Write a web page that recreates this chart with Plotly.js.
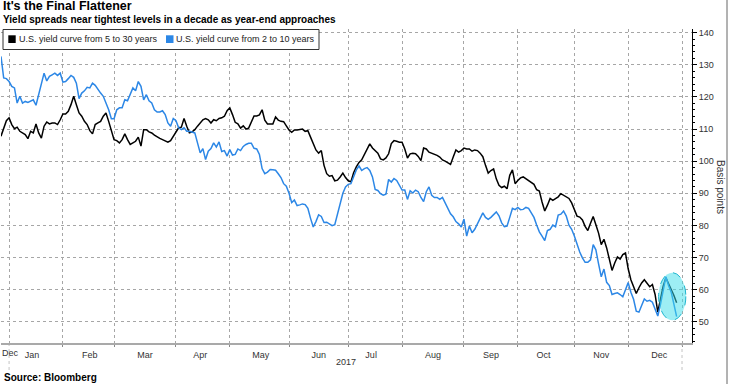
<!DOCTYPE html>
<html>
<head>
<meta charset="utf-8">
<script src="https://cdn.plot.ly/plotly-3.0.1.min.js"></script>
<style>
html, body { margin: 0; padding: 0; background: #ffffff; }
#chart { width: 729px; height: 384px; }
</style>
</head>
<body>
<div id="chart"></div>
<script>
// ---------------- DATA ----------------
const dates = [
  '2016-12-28','2016-12-29','2016-12-30',
  '2017-01-03','2017-01-04','2017-01-05','2017-01-06','2017-01-09','2017-01-10','2017-01-11','2017-01-12','2017-01-13','2017-01-17','2017-01-18','2017-01-19','2017-01-20','2017-01-23','2017-01-24','2017-01-25','2017-01-26','2017-01-27','2017-01-30','2017-01-31',
  '2017-02-01','2017-02-02','2017-02-03','2017-02-06','2017-02-07','2017-02-08','2017-02-09','2017-02-10','2017-02-13','2017-02-14','2017-02-15','2017-02-16','2017-02-17','2017-02-21','2017-02-22','2017-02-23','2017-02-24','2017-02-27','2017-02-28',
  '2017-03-01','2017-03-02','2017-03-03','2017-03-06','2017-03-07','2017-03-08','2017-03-09','2017-03-10','2017-03-13','2017-03-14','2017-03-15','2017-03-16','2017-03-17','2017-03-20','2017-03-21','2017-03-22','2017-03-23','2017-03-24','2017-03-27','2017-03-28','2017-03-29','2017-03-30','2017-03-31',
  '2017-04-03','2017-04-04','2017-04-05','2017-04-06','2017-04-07','2017-04-10','2017-04-11','2017-04-12','2017-04-13','2017-04-14','2017-04-17','2017-04-18','2017-04-19','2017-04-20','2017-04-21','2017-04-24','2017-04-25','2017-04-26','2017-04-27','2017-04-28',
  '2017-05-01','2017-05-02','2017-05-03','2017-05-04','2017-05-05','2017-05-08','2017-05-09','2017-05-10','2017-05-11','2017-05-12','2017-05-15','2017-05-16','2017-05-17','2017-05-18','2017-05-19','2017-05-22','2017-05-23','2017-05-24','2017-05-25','2017-05-26','2017-05-30','2017-05-31',
  '2017-06-01','2017-06-02','2017-06-05','2017-06-06','2017-06-07','2017-06-08','2017-06-09','2017-06-12','2017-06-13','2017-06-14','2017-06-15','2017-06-16','2017-06-19','2017-06-20','2017-06-21','2017-06-22','2017-06-23','2017-06-26','2017-06-27','2017-06-28','2017-06-29','2017-06-30',
  '2017-07-03','2017-07-05','2017-07-06','2017-07-07','2017-07-10','2017-07-11','2017-07-12','2017-07-13','2017-07-14','2017-07-17','2017-07-18','2017-07-19','2017-07-20','2017-07-21','2017-07-24','2017-07-25','2017-07-26','2017-07-27','2017-07-28','2017-07-31',
  '2017-08-01','2017-08-02','2017-08-03','2017-08-04','2017-08-07','2017-08-08','2017-08-09','2017-08-10','2017-08-11','2017-08-14','2017-08-15','2017-08-16','2017-08-17','2017-08-18','2017-08-21','2017-08-22','2017-08-23','2017-08-24','2017-08-25','2017-08-28','2017-08-29','2017-08-30','2017-08-31',
  '2017-09-01','2017-09-05','2017-09-06','2017-09-07','2017-09-08','2017-09-11','2017-09-12','2017-09-13','2017-09-14','2017-09-15','2017-09-18','2017-09-19','2017-09-20','2017-09-21','2017-09-22','2017-09-25','2017-09-26','2017-09-27','2017-09-28','2017-09-29',
  '2017-10-02','2017-10-03','2017-10-04','2017-10-05','2017-10-06','2017-10-10','2017-10-11','2017-10-12','2017-10-13','2017-10-16','2017-10-17','2017-10-18','2017-10-19','2017-10-20','2017-10-23','2017-10-24','2017-10-25','2017-10-26','2017-10-27','2017-10-30','2017-10-31',
  '2017-11-01','2017-11-02','2017-11-03','2017-11-06','2017-11-07','2017-11-08','2017-11-09','2017-11-13','2017-11-14','2017-11-15','2017-11-16','2017-11-17','2017-11-20','2017-11-21','2017-11-22','2017-11-24','2017-11-27','2017-11-28','2017-11-29','2017-11-30',
  '2017-12-01','2017-12-04','2017-12-05','2017-12-06','2017-12-07','2017-12-08','2017-12-11','2017-12-12','2017-12-13','2017-12-14','2017-12-15','2017-12-18','2017-12-19','2017-12-20','2017-12-21','2017-12-22','2017-12-26','2017-12-27','2017-12-28'
];

// U.S. yield curve from 5 to 30 years (basis points)
const curve5to30 = [
  107.8, 110.4, 112.6,
  113.5, 111.4, 110.1, 110.6, 109.3, 108.8, 108.3, 107.0, 109.3, 108.8, 111.6, 108.8, 107.2, 110.9, 112.2, 111.6, 111.9, 111.9, 111.4, 112.9,
  114.7, 114.7, 115.5, 117.6, 120.2, 117.6, 115.0, 114.0, 112.4, 111.4, 109.5, 108.5, 111.4, 111.9, 112.4, 114.0, 115.0, 112.4, 109.3,
  106.7, 106.4, 105.7, 106.7, 108.5, 106.7, 105.2, 105.7, 106.2, 107.5, 104.7, 109.8, 109.8, 109.1, 108.8, 108.1, 107.5, 107.1, 106.7, 106.2, 105.9, 106.4, 107.8,
  109.1, 110.4, 110.6, 113.3, 110.9, 108.8, 109.1, 109.8, 110.9, 111.9, 112.9, 113.3, 112.9, 111.9, 112.9, 112.6, 113.3, 113.5, 114.0, 115.7,
  116.6, 114.5, 112.1, 111.6, 110.3, 111.0, 110.0, 110.3, 112.1, 114.1, 114.1, 114.4, 116.0, 112.8, 111.6, 111.6, 111.6, 113.8, 112.8, 112.4, 112.3, 111.0,
  109.7, 109.0, 109.7, 109.7, 109.8, 110.0, 109.3, 109.5, 107.5, 105.2, 103.5, 102.5, 103.3, 98.7, 96.1, 95.3, 95.5, 93.9, 94.1, 95.1, 96.3, 94.9,
  93.9, 93.6, 96.4, 98.2, 99.6, 100.4, 102.1, 103.5, 105.4, 104.1, 103.3, 102.5, 100.7, 100.4, 101.0, 102.3, 105.5, 106.4, 106.2, 105.9,
  105.9, 103.8, 101.0, 102.3, 102.5, 102.3, 101.5, 100.2, 104.1, 103.8, 102.8, 102.5, 102.3, 101.8, 101.3, 100.4, 100.0, 99.5, 99.0, 101.3, 103.5, 102.8, 103.3,
  104.1, 103.8, 103.8, 103.1, 103.5, 103.3, 102.5, 101.4, 98.7, 96.3, 97.1, 97.6, 94.5, 92.5, 91.8, 92.2, 91.4, 95.6, 97.3, 93.0,
  94.0, 94.8, 95.1, 94.5, 94.0, 93.5, 92.8, 91.1, 90.7, 87.3, 84.5, 86.3, 88.4, 87.8, 88.4, 88.9, 89.9, 89.4, 89.1, 88.4, 87.0,
  84.7, 82.9, 82.6, 81.7, 79.7, 78.4, 80.7, 82.8, 80.2, 77.6, 74.0, 75.7, 73.0, 69.9, 66.0, 68.3, 70.2, 69.5, 70.9, 71.4,
  66.5, 63.1, 61.1, 58.8, 60.6, 62.1, 63.1, 62.1, 60.9, 61.6, 58.5, 53.0, 56.9, 61.1, 63.7, 61.9, 60.2, 58.2, 55.9
];

// U.S. yield curve from 2 to 10 years (basis points)
const curve2to10 = [
  132.6, 125.9, 125.7,
  124.8, 123.3, 122.8, 118.1, 120.2, 118.1, 118.6, 118.3, 118.6, 119.1, 117.4, 120.7, 124.3, 127.4, 125.0, 126.4, 126.9, 127.4, 126.7, 127.4,
  124.6, 124.8, 125.7, 126.7, 126.1, 124.3, 119.5, 121.2, 121.9, 123.0, 122.8, 124.3, 123.6, 122.2, 121.2, 120.2, 118.1, 116.0, 113.2,
  113.2, 116.0, 116.6, 116.6, 119.1, 118.8, 120.7, 122.8, 121.9, 124.8, 123.3, 119.1, 120.7, 118.8, 118.1, 116.0, 115.3, 115.3, 115.7, 114.5, 111.9, 110.9, 113.3,
  112.6, 110.4, 109.8, 110.4, 109.3, 109.3, 109.1, 108.8, 105.7, 102.6, 103.9, 100.5, 103.1, 103.9, 105.7, 104.4, 106.0, 103.0, 103.3, 101.6,
  103.6, 101.9, 102.1, 103.8, 103.3, 104.6, 105.2, 105.6, 105.6, 104.0, 103.8, 102.1, 97.7, 96.1, 96.6, 97.4, 97.3, 97.2, 96.1, 94.9, 93.0, 92.2,
  90.0, 87.1, 87.9, 86.2, 86.4, 86.7, 86.5, 85.3, 82.2, 79.5, 81.2, 83.3, 82.8, 80.9, 81.0, 80.5, 79.9, 80.2, 83.8, 87.4, 90.0, 92.0,
  92.8, 93.0, 95.1, 97.3, 98.5, 97.1, 97.7, 98.0, 97.1, 95.1, 91.2, 90.9, 89.9, 89.4, 89.7, 94.3, 93.5, 94.6, 94.0, 92.5,
  91.0, 91.0, 88.1, 90.8, 90.1, 91.0, 90.5, 88.7, 87.4, 90.5, 92.0, 89.4, 88.7, 88.7, 88.1, 88.7, 87.0, 85.8, 83.6, 82.7, 81.2, 80.5, 79.5,
  82.0, 76.7, 79.8, 77.7, 78.8, 80.6, 82.5, 83.9, 82.5, 81.9, 82.5, 83.5, 84.2, 83.0, 80.8, 79.6, 79.8, 82.5, 85.3, 84.9,
  85.6, 84.9, 85.0, 85.6, 85.3, 83.9, 82.5, 80.1, 78.0, 76.7, 75.3, 78.4, 78.8, 80.1, 79.6, 83.2, 83.5, 84.5, 82.9, 80.1, 78.8,
  76.7, 73.8, 71.7, 69.9, 68.5, 68.5, 69.3, 74.0, 72.4, 68.0, 64.0, 66.4, 62.3, 61.3, 58.5, 58.8, 59.0, 58.5, 57.8, 60.0,
  62.2, 59.2, 57.0, 53.3, 53.0, 55.1, 57.1, 56.4, 56.7, 56.1, 54.0, 51.8, 55.4, 59.5, 64.0, 61.3, 59.2, 55.4, 51.6
];

const seriesNames = ['U.S. yield curve from 5 to 30 years', 'U.S. yield curve from 2 to 10 years'];
const seriesColors = ['#000000', '#2c87e6'];

// US bond-market holidays (the axis is drawn in trading days)
const bondHolidays = ['2016-12-26','2017-01-02','2017-01-16','2017-02-20','2017-05-29','2017-07-04',
  '2017-09-04','2017-10-09','2017-11-10','2017-11-23','2017-12-25','2018-01-01'];

const titleText = "It's the Final Flattener";
const subtitleText = 'Yield spreads near tightest levels in a decade as year-end approaches';
const yAxisLabel = 'Basis points';
const yearLabel = '2017';
const sourceText = 'Source: Bloomberg';

// ---------------- LAYOUT ----------------
const W = 729, H = 384, ML = 1, MR = 37, MT = 29, MB = 41;
const PW = W - ML - MR, PH = H - MT - MB;
const px = x => (x - ML) / PW;
const py = y => 1 - (y - MT) / PH;
const FONT = 'Liberation Sans, Arial, sans-serif';

const traces = [
  { x: dates, y: curve5to30, type: 'scatter', mode: 'lines', name: seriesNames[0],
    line: { color: seriesColors[0], width: 1.5 }, showlegend: false, hoverinfo: 'skip' },
  { x: dates, y: curve2to10, type: 'scatter', mode: 'lines', name: seriesNames[1],
    line: { color: seriesColors[1], width: 1.5 }, showlegend: false, hoverinfo: 'skip' }
];

const gridColor = '#a6a6a6';

const layout = {
  width: W, height: H,
  margin: { l: ML, r: MR, t: MT, b: MB, pad: 0 },
  paper_bgcolor: '#ffffff', plot_bgcolor: '#ffffff',
  font: { family: FONT, size: 9, color: '#333' },
  showlegend: false,
  xaxis: {
    type: 'date',
    range: ['2016-12-28', '2018-01-05 17:00'],
    rangebreaks: [ { bounds: ['sat', 'mon'] }, { values: bondHolidays } ],
    tick0: '2017-01-01', dtick: 'M1', tickformat: '%b', ticklabelmode: 'period',
    showgrid: true, gridcolor: gridColor, griddash: 'dot', gridwidth: 1,
    showline: true, linecolor: '#a9a9a9', linewidth: 2,
    ticks: 'outside', ticklen: 2, tickcolor: '#888',
    tickfont: { family: FONT, size: 9, color: '#333' },
    zeroline: false, fixedrange: true
  },
  yaxis: {
    side: 'right',
    range: [43.4, 141.15],
    tick0: 0, dtick: 10,
    showgrid: true, gridcolor: gridColor, griddash: 'dot', gridwidth: 1,
    showline: true, linecolor: '#000', linewidth: 1,
    ticks: 'outside', ticklen: 4, tickcolor: '#000', tickwidth: 1,
    minor: { dtick: 2, ticks: 'outside', ticklen: 2, tickcolor: '#000', showgrid: false },
    tickfont: { family: FONT, size: 9, color: '#333' },
    zeroline: false, fixedrange: true
  },
  shapes: [
    // legend box
    { type: 'rect', xref: 'paper', yref: 'paper', x0: px(3), x1: px(319), y0: py(49.5), y1: py(29.5),
      line: { color: '#333', width: 1 }, fillcolor: '#ffffff', layer: 'above' },
    { type: 'rect', xref: 'paper', yref: 'paper', x0: px(8.3), x1: px(15.7), y0: py(43), y1: py(35.3),
      line: { width: 0 }, fillcolor: seriesColors[0], layer: 'above' },
    { type: 'rect', xref: 'paper', yref: 'paper', x0: px(166), x1: px(173.5), y0: py(43), y1: py(35.3),
      line: { width: 0 }, fillcolor: seriesColors[1], layer: 'above' },
    // highlight ellipse around latest data
    { type: 'circle', xref: 'x', yref: 'y', x0: '2017-12-18 07:00', x1: '2018-01-03 10:00', y0: 50.5, y1: 65.3,
      fillcolor: 'rgba(60,222,234,0.5)', line: { color: '#1eb6cf', width: 1, dash: 'dash' }, layer: 'above' },
    // year boundary markers below axis
    { type: 'line', xref: 'x', yref: 'paper', x0: '2017-01-03', x1: '2017-01-03', y0: py(370), y1: py(345),
      line: { color: '#c4c4c4', width: 1, dash: 'dot' } },
    { type: 'line', xref: 'x', yref: 'paper', x0: '2018-01-02', x1: '2018-01-02', y0: py(370), y1: py(345),
      line: { color: '#c4c4c4', width: 1, dash: 'dot' } },
    // right frame line
    { type: 'line', xref: 'paper', yref: 'paper', x0: px(727), x1: px(727), y0: py(H), y1: py(0),
      line: { color: '#666', width: 1 } }
  ],
  annotations: [
    { text: '<b>' + titleText + '</b>', xref: 'paper', yref: 'paper', x: px(2), y: py(6.2),
      xanchor: 'left', yanchor: 'middle', showarrow: false, borderpad: 0,
      font: { family: FONT, size: 12.5, color: '#000' } },
    { text: '<b>' + subtitleText + '</b>', xref: 'paper', yref: 'paper', x: px(2), y: py(19.4),
      xanchor: 'left', yanchor: 'middle', showarrow: false, borderpad: 0,
      font: { family: FONT, size: 10, color: '#000' } },
    { text: seriesNames[0], xref: 'paper', yref: 'paper', x: px(16.5), y: py(39.3),
      xanchor: 'left', yanchor: 'middle', showarrow: false, font: { family: FONT, size: 9, color: '#222' } },
    { text: seriesNames[1], xref: 'paper', yref: 'paper', x: px(174.5), y: py(39.3),
      xanchor: 'left', yanchor: 'middle', showarrow: false, font: { family: FONT, size: 9, color: '#222' } },
    { text: 'Dec', xref: 'paper', yref: 'paper', x: px(10), y: py(352.5),
      xanchor: 'center', yanchor: 'middle', showarrow: false, font: { family: FONT, size: 9, color: '#333' } },
    { text: yearLabel, xref: 'paper', yref: 'paper', x: px(345.5), y: py(362),
      xanchor: 'center', yanchor: 'middle', showarrow: false, font: { family: FONT, size: 9, color: '#333' } },
    { text: yAxisLabel, xref: 'paper', yref: 'paper', x: px(721), y: py(187), textangle: 90,
      xanchor: 'center', yanchor: 'middle', showarrow: false, font: { family: FONT, size: 10, color: '#333' } },
    { text: '<b>' + sourceText + '</b>', xref: 'paper', yref: 'paper', x: px(2), y: py(377),
      xanchor: 'left', yanchor: 'middle', showarrow: false, font: { family: FONT, size: 10, color: '#000' } }
  ]
};

Plotly.newPlot('chart', traces, layout, { staticPlot: true, displayModeBar: false });
</script>
</body>
</html>
